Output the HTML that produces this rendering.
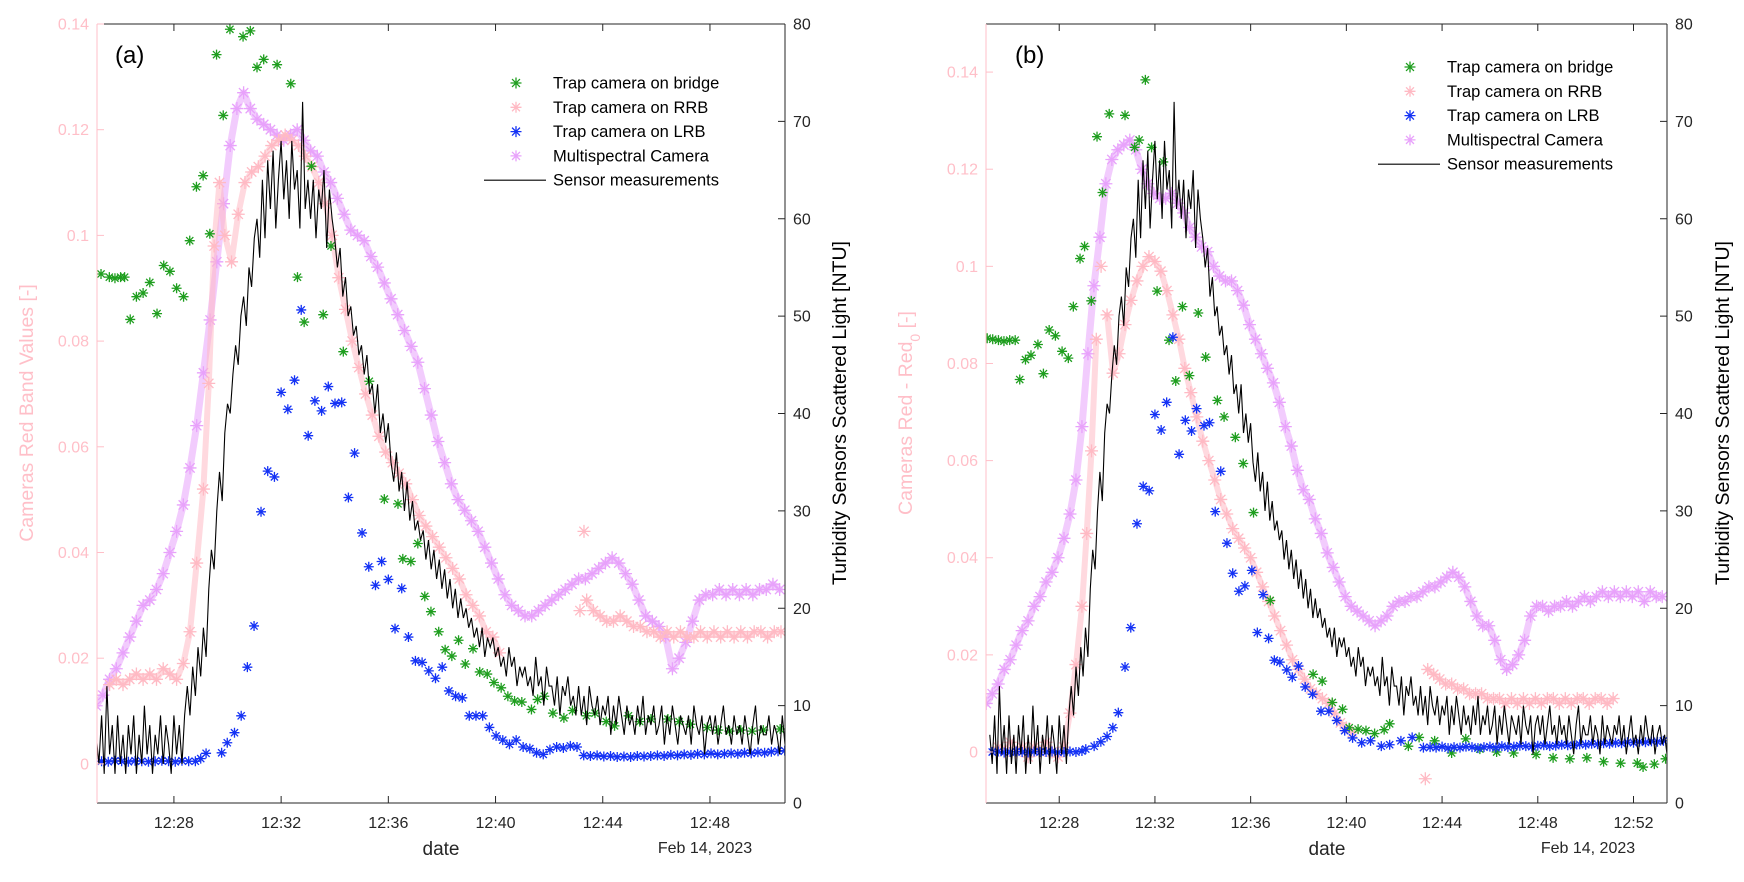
<!DOCTYPE html>
<html><head><meta charset="utf-8">
<style>
html,body{margin:0;padding:0;background:#fff;}
svg{display:block;font-family:"Liberation Sans",Arial,sans-serif;}
</style></head>
<body>
<svg id="chart" width="1744" height="882" viewBox="0 0 1744 882" xmlns="http://www.w3.org/2000/svg">
<defs>
<clipPath id="clipA"><rect x="97" y="24" width="688" height="779"/></clipPath>
<clipPath id="clipB"><rect x="986" y="24" width="681" height="779"/></clipPath>
</defs>
</svg>
<script>
// ---------- shared sensor data (NTU), start 12:25.1, step 0.1 min ----------
const sensorT0 = 25.1;
const sensorStep = 0.1;
const sensorNTU = [
7,4,9,3,12,5,8,3,9,4,
7,3,8,5,9,3,7,4,10,5,
8,3,7,5,9,4,8,6,3,9,
5,8,4,9,12,9,14,11,16,13,
18,15,22,26,24,30,34,31,38,41,
40,44,47,45,50,52,49,55,53,58,
60,56,64,58,66,61,67,59,64,68,
62,66,60,68,63,65,59,72,61,64,
60,64,58,63,61,65,57,63,60,58,
55,57,52,54,50,51,48,49,46,47,
44,46,42,43,40,43,38,40,37,39,
35,33,36,32,34,30,33,29,31,28,
29,27,28,25,27,24,26,23,25,22,
24,21,23,20,22,19,21,19,20,18,
19,17,18,16,18,15,17,16,17,15,
16,14,15,13,16,14,15,12,14,13,
14,12,13,11,15,12,13,10,14,12,
12,10,13,9,12,11,13,10,11,9,
12,9,11,8,12,10,9,11,8,10,
9,11,7,10,8,11,9,7,10,8,
9,7,10,8,11,7,9,8,10,7,
8,10,6,9,7,10,8,6,9,8,
7,9,6,10,8,7,9,5,8,9,
7,9,6,8,10,7,8,6,9,7,
8,6,9,7,5,8,10,6,8,7,
7,9,6,8,7,5,9,6,8,7,
6,8,7,9,6,8,5,7,9,6,
7,5,8,6,9,7,6,8,5,7,
8,6,7,5
];

// ---------- panel (a) ----------
const msA_t0 = 25.1, msA_step = 0.25;
const msA = [0.011,0.013,0.016,0.018,0.021,0.024,0.027,0.030,0.031,0.033,0.036,0.040,0.044,0.049,0.056,0.064,0.074,0.084,0.095,0.106,0.117,0.124,0.127,0.124,0.122,0.121,0.120,0.119,0.118,0.119,0.120,0.118,0.116,0.115,0.112,0.110,0.107,0.104,0.101,0.100,0.099,0.096,0.094,0.091,0.088,0.085,0.082,0.079,0.076,0.071,0.066,0.061,0.057,0.053,0.050,0.048,0.046,0.044,0.041,0.038,0.035,0.032,0.030,0.029,0.028,0.028,0.029,0.030,0.031,0.032,0.033,0.034,0.035,0.035,0.036,0.037,0.038,0.039,0.038,0.036,0.034,0.031,0.028,0.027,0.026,0.024,0.018,0.020,0.023,0.027,0.031,0.032,0.032,0.033,0.032,0.033,0.032,0.033,0.032,0.033,0.033,0.034,0.033];

const rrbA_t = [25.6,25.85,26.1,26.35,26.6,26.85,27.1,27.35,27.6,27.85,28.1,28.35,28.6,28.85,29.1,29.3,29.5,29.7,29.9,30.15,30.4,30.65,30.9,31.15,31.4,31.65,31.9,32.15,32.4,32.65,32.9,33.15,33.4,33.65,33.9,34.15,34.4,34.65,34.9,35.15,35.4,35.65,35.9,36.15,36.4,36.65,36.9,37.15,37.4,37.65,37.9,38.15,38.4,38.65,38.9,39.15,39.4,39.65,39.9,40.15,43.15,43.3,43.4,43.65,43.9,44.15,44.4,44.65,44.9,45.15,45.4,45.65,45.9,46.15,46.4,46.65,46.9,47.15,47.4,47.65,47.9,48.15,48.4,48.65,48.9,49.15,49.4,49.65,49.9,50.15,50.4,50.65];
const rrbA = [0.015,0.016,0.015,0.016,0.017,0.016,0.017,0.016,0.018,0.017,0.016,0.019,0.025,0.038,0.052,0.072,0.098,0.110,0.100,0.095,0.104,0.110,0.112,0.113,0.115,0.117,0.118,0.119,0.118,0.117,0.115,0.113,0.110,0.106,0.100,0.092,0.086,0.080,0.075,0.070,0.066,0.062,0.059,0.057,0.055,0.053,0.050,0.047,0.045,0.043,0.041,0.039,0.037,0.035,0.032,0.030,0.028,0.025,0.024,0.021,0.029,0.044,0.031,0.029,0.028,0.027,0.027,0.028,0.027,0.026,0.026,0.025,0.025,0.024,0.025,0.024,0.025,0.024,0.024,0.025,0.024,0.025,0.024,0.025,0.024,0.025,0.024,0.025,0.025,0.024,0.025,0.025];

const bridgeA_t = [25.28,25.59,25.80,26.01,26.16,26.37,26.60,26.85,27.10,27.37,27.62,27.85,28.10,28.36,28.59,28.84,29.09,29.34,29.59,29.84,30.09,30.58,30.85,31.10,31.35,31.85,32.36,32.61,32.86,33.13,33.57,33.86,34.32,35.29,35.85,36.36,36.54,36.84,37.10,37.36,37.59,37.88,38.12,38.37,38.62,38.87,39.16,39.41,39.69,39.94,40.21,40.46,40.71,40.98,41.34,41.57,41.82,42.14,42.55,42.87,43.39,43.71,44.13,44.44,44.96,45.38,45.80,46.43,46.85,47.27,47.90,48.31,48.73,49.15,49.57,49.99,50.62];
const bridgeA = [0.0927,0.0921,0.0919,0.0921,0.0921,0.0841,0.0884,0.0891,0.0911,0.0852,0.0943,0.0932,0.0900,0.0884,0.0990,0.1092,0.1113,0.1003,0.1342,0.1227,0.1390,0.1376,0.1387,0.1318,0.1333,0.1323,0.1287,0.0921,0.0836,0.1131,0.0850,0.0980,0.0780,0.0724,0.0501,0.0492,0.0388,0.0383,0.0417,0.0317,0.0288,0.0250,0.0216,0.0204,0.0234,0.0189,0.0218,0.0174,0.0170,0.0154,0.0144,0.0128,0.0119,0.0117,0.0103,0.0122,0.0128,0.0096,0.0087,0.0101,0.0091,0.0096,0.0080,0.0072,0.0091,0.0080,0.0085,0.0085,0.0080,0.0075,0.0069,0.0064,0.0062,0.0064,0.0062,0.0064,0.0066];

const lrbA_t = [25.3,25.55,25.8,26.05,26.3,26.55,26.8,27.05,27.3,27.55,27.8,28.05,28.3,28.55,28.8,29.0,29.2,29.78,29.99,30.26,30.51,30.74,30.99,31.25,31.50,31.75,32.00,32.25,32.50,32.75,33.01,33.26,33.51,33.76,34.01,34.26,34.51,34.74,35.02,35.27,35.52,35.75,36.00,36.25,36.50,36.75,37.01,37.26,37.51,37.76,38.01,38.26,38.51,38.76,39.02,39.27,39.52,39.77,40.02,40.27,40.52,40.77,41.03,41.28,41.53,41.78,42.03,42.28,42.53,42.79,43.04,43.29,43.54,43.79,44.04,44.29,44.54,44.79,45.04,45.29,45.54,45.79,46.04,46.29,46.54,46.79,47.04,47.29,47.54,47.79,48.04,48.29,48.54,48.79,49.04,49.29,49.54,49.79,50.04,50.29,50.54,50.79];
const lrbA = [0.0005,0.0004,0.0006,0.0005,0.0004,0.0006,0.0005,0.0004,0.0005,0.0006,0.0005,0.0004,0.0006,0.0005,0.0005,0.0010,0.0020,0.0021,0.0040,0.0059,0.0091,0.0183,0.0261,0.0477,0.0554,0.0543,0.0703,0.0671,0.0726,0.0859,0.0621,0.0687,0.0668,0.0714,0.0682,0.0684,0.0504,0.0588,0.0437,0.0373,0.0338,0.0383,0.0349,0.0256,0.0332,0.0240,0.0195,0.0192,0.0176,0.0162,0.0183,0.0138,0.0128,0.0125,0.0091,0.0091,0.0091,0.0069,0.0053,0.0045,0.0037,0.0045,0.0032,0.0029,0.0021,0.0018,0.0027,0.0032,0.0030,0.0034,0.0032,0.0016,0.0015,0.0016,0.0014,0.0015,0.0013,0.0014,0.0013,0.0015,0.0014,0.0015,0.0016,0.0015,0.0017,0.0016,0.0018,0.0017,0.0019,0.0018,0.0020,0.0018,0.0019,0.0020,0.0019,0.0021,0.0020,0.0022,0.0021,0.0023,0.0024,0.0025];

// ---------- panel (b) ----------
const msB_t0 = 24.95, msB_step = 0.25;
const msB = [0.010,0.012,0.014,0.017,0.019,0.022,0.025,0.027,0.030,0.032,0.035,0.037,0.040,0.044,0.049,0.056,0.067,0.082,0.096,0.106,0.117,0.122,0.124,0.125,0.126,0.124,0.120,0.117,0.115,0.114,0.114,0.115,0.113,0.111,0.108,0.106,0.104,0.103,0.100,0.098,0.097,0.097,0.095,0.092,0.088,0.085,0.082,0.079,0.076,0.072,0.067,0.063,0.058,0.054,0.052,0.048,0.045,0.041,0.038,0.035,0.032,0.030,0.029,0.028,0.027,0.026,0.027,0.028,0.030,0.031,0.031,0.032,0.032,0.033,0.034,0.034,0.035,0.036,0.037,0.036,0.034,0.031,0.028,0.026,0.026,0.023,0.019,0.017,0.018,0.020,0.023,0.028,0.030,0.030,0.029,0.030,0.030,0.031,0.030,0.031,0.032,0.031,0.032,0.033,0.032,0.033,0.032,0.033,0.032,0.033,0.031,0.033,0.032,0.032];

const rrbB_t = [25.45,25.7,25.95,26.2,26.45,26.7,26.95,27.2,27.45,27.7,27.95,28.2,28.45,28.7,28.95,29.15,29.35,29.55,29.75,30.0,30.25,30.5,30.75,31.0,31.25,31.5,31.75,32.0,32.25,32.5,32.75,33.0,33.25,33.5,33.75,34.0,34.25,34.5,34.75,35.0,35.25,35.5,35.75,36.0,36.25,36.5,36.75,37.0,37.25,37.5,37.75,38.0,38.25,38.5,38.75,39.0,39.25,39.5,39.75,40.0,40.25,43.3,43.4,43.65,43.9,44.15,44.4,44.65,44.9,45.15,45.4,45.65,45.9,46.15,46.4,46.65,46.9,47.15,47.4,47.65,47.9,48.15,48.4,48.65,48.9,49.15,49.4,49.65,49.9,50.15,50.4,50.65,50.9,51.15];
const rrbB = [0.001,0.000,0.002,0.000,0.001,-0.001,0.001,0.000,0.002,0.000,-0.001,0.001,0.008,0.018,0.030,0.045,0.062,0.085,0.100,0.090,0.078,0.082,0.088,0.093,0.097,0.100,0.102,0.101,0.099,0.095,0.090,0.085,0.079,0.074,0.069,0.064,0.060,0.056,0.052,0.049,0.046,0.044,0.042,0.040,0.037,0.034,0.031,0.028,0.025,0.022,0.019,0.017,0.015,0.013,0.012,0.011,0.010,0.008,0.006,0.005,0.004,-0.0055,0.017,0.016,0.015,0.014,0.014,0.013,0.013,0.012,0.012,0.012,0.011,0.011,0.011,0.010,0.011,0.010,0.011,0.010,0.011,0.010,0.011,0.011,0.010,0.011,0.010,0.011,0.011,0.010,0.011,0.011,0.010,0.011];

const bridgeB_t = [24.99,25.22,25.46,25.69,25.93,26.16,26.35,26.59,26.82,27.11,27.34,27.58,27.84,28.12,28.38,28.59,28.87,29.06,29.34,29.58,29.81,30.09,30.75,31.15,31.34,31.60,31.86,32.09,32.35,32.59,32.87,33.15,33.44,33.81,34.12,34.61,34.89,35.36,35.69,36.12,36.82,38.61,38.99,39.41,39.84,40.12,40.49,40.82,41.18,41.58,41.81,42.59,43.04,43.69,44.40,44.99,45.58,46.28,46.99,47.93,48.64,49.34,50.05,50.75,51.46,52.16,52.40,52.87,53.34];
const bridgeB = [0.0852,0.0850,0.0848,0.0846,0.0848,0.0848,0.0767,0.0808,0.0817,0.0839,0.0779,0.0869,0.0857,0.0825,0.0811,0.0917,0.1016,0.1041,0.0929,0.1267,0.1152,0.1314,0.1311,0.1245,0.1260,0.1384,0.1245,0.0949,0.1215,0.0848,0.0764,0.0917,0.0775,0.0904,0.0813,0.0724,0.0690,0.0648,0.0594,0.0493,0.0312,0.0160,0.0146,0.0102,0.0088,0.0050,0.0047,0.0044,0.0038,0.0046,0.0058,0.0012,0.0030,0.0023,-0.0002,0.0027,0.0006,0.0000,-0.0002,-0.0005,-0.0012,-0.0014,-0.0012,-0.0020,-0.0023,-0.0023,-0.0031,-0.0025,-0.0014];

const lrbB_t = [25.2,25.45,25.7,25.95,26.2,26.45,26.7,26.95,27.2,27.45,27.7,27.95,28.2,28.45,28.7,28.95,29.11,29.46,29.74,30.00,30.24,30.47,30.75,30.99,31.25,31.51,31.76,32.00,32.26,32.49,32.75,33.01,33.27,33.53,33.74,34.05,34.28,34.52,34.75,35.01,35.25,35.51,35.76,36.05,36.28,36.52,36.75,36.99,37.22,37.51,37.74,38.00,38.28,38.59,38.94,39.27,39.60,39.93,40.26,40.64,41.01,41.46,41.81,42.28,42.75,43.22,43.5,43.75,44.0,44.25,44.5,44.75,45.0,45.25,45.5,45.75,46.0,46.25,46.5,46.75,47.0,47.25,47.5,47.75,48.0,48.25,48.5,48.75,49.0,49.25,49.5,49.75,50.0,50.25,50.5,50.75,51.0,51.25,51.5,51.75,52.0,52.25,52.5,52.75,53.0,53.25];
const lrbB = [0.0000,0.0001,-0.0001,0.0000,0.0001,0.0000,-0.0001,0.0001,0.0000,0.0000,0.0001,-0.0001,0.0000,0.0001,0.0000,0.0002,0.0006,0.0012,0.0021,0.0032,0.0050,0.0081,0.0175,0.0256,0.0470,0.0547,0.0538,0.0695,0.0663,0.0720,0.0854,0.0613,0.0683,0.0661,0.0707,0.0672,0.0678,0.0495,0.0578,0.0430,0.0368,0.0331,0.0342,0.0374,0.0246,0.0324,0.0234,0.0189,0.0185,0.0169,0.0154,0.0177,0.0134,0.0119,0.0084,0.0084,0.0065,0.0044,0.0029,0.0019,0.0023,0.0012,0.0015,0.0023,0.0030,0.0009,0.0010,0.0009,0.0011,0.0008,0.0010,0.0009,0.0011,0.0010,0.0008,0.0010,0.0011,0.0009,0.0012,0.0010,0.0011,0.0013,0.0012,0.0011,0.0013,0.0014,0.0012,0.0013,0.0015,0.0014,0.0013,0.0016,0.0015,0.0017,0.0016,0.0018,0.0017,0.0019,0.0018,0.0020,0.0019,0.0021,0.0020,0.0022,0.0021,0.0023];

// tick labels
const leftTicks = [0,0.02,0.04,0.06,0.08,0.1,0.12,0.14];
const leftTickLabels = ["0","0.02","0.04","0.06","0.08","0.1","0.12","0.14"];
const rightTicks = [0,10,20,30,40,50,60,70,80];
const xTicksA = [28,32,36,40,44,48];
const xTicksB = [28,32,36,40,44,48,52];

const NS = "http://www.w3.org/2000/svg";
const svg = document.getElementById('chart');
const COL = {ms:"#e8a2fb", rrb:"#ffbac4", bridge:"#1f9e1f", lrb:"#1432f5", pinkAxis:"#ffbfc8"};

function mk(tag, parent){ const e=document.createElementNS(NS,tag); parent.appendChild(e); return e; }
function starD(x,y,s){
  const d=s*0.72;
  return `M${x-s},${y}h${2*s}M${x},${y-s}v${2*s}M${x-d},${y-d}l${2*d},${2*d}M${x-d},${y+d}l${2*d},${-2*d}`;
}

function drawPanel(P){
  const g = mk('g', svg);
  
  
  const X = t => P.x0 + (t-P.tmin)/(P.tmax-P.tmin)*(P.x1-P.x0);
  const Y = v => P.y1 - (v-P.vmin)/(P.vmax-P.vmin)*(P.y1-P.y0);
  const YR = n => P.y1 - n/80*(P.y1-P.y0);

  const plot = mk('g', g);
  plot.setAttribute('clip-path', `url(#${P.clip})`);
  
  

  function series(name, ts, vs, color, sw, sz){
    const sg = mk('g', plot);
    
    
    if (sw){
      const n = ts.length;
      const out = vs.map((v,i)=>{
        const hasL = i>0 && (ts[i]-ts[i-1])<0.45;
        const hasR = i<n-1 && (ts[i+1]-ts[i])<0.45;
        const a = hasL ? v-vs[i-1] : null, b = hasR ? v-vs[i+1] : null;
        if (a!==null && b!==null) return Math.abs(a)>0.01 && Math.abs(b)>0.01 && Math.sign(a)===Math.sign(b);
        if (a===null && b!==null) return Math.abs(b)>0.01;
        if (b===null && a!==null) return Math.abs(a)>0.01;
        return false;
      });
      let d='';
      for(let i=0;i<n;i++){
        if (out[i]) continue;
        const cont = i>0 && !out[i-1] && (ts[i]-ts[i-1])<0.45 && Math.abs(vs[i]-vs[i-1])<0.03;
        d += (cont?'L':'M') + X(ts[i]).toFixed(1)+','+Y(vs[i]).toFixed(1);
      }
      const band = mk('path', sg);
      
      
      band.setAttribute('d', d);
      band.setAttribute('fill','none');
      band.setAttribute('stroke', color);
      band.setAttribute('stroke-width', sw);
      band.setAttribute('stroke-linejoin','round');
      band.setAttribute('stroke-linecap','round');
      band.setAttribute('opacity','0.55');
    }
    for(let i=0;i<ts.length;i++){
      const p = mk('path', sg);
      
      
      p.setAttribute('d', starD(X(ts[i]), Y(vs[i]), sz));
      p.setAttribute('stroke', color);
      p.setAttribute('stroke-width', '1.3');
      p.setAttribute('fill','none');
    }
  }
  const seqT = (t0,step,n)=>Array.from({length:n},(_,i)=>t0+i*step);
  series('multispectral-series', seqT(P.ms_t0,P.ms_step,P.ms.length), P.ms, COL.ms, 7, 6.5);
  series('rrb-series', P.rrb_t, P.rrb, COL.rrb, 6, 6.5);
  series('bridge-series', P.br_t, P.br, COL.bridge, 0, 5);
  series('lrb-series', P.lrb_t, P.lrb, COL.lrb, 0, 5);

  // sensor line
  let d='';
  for(let i=0;i<sensorNTU.length;i++){
    d += (i?'L':'M') + X(sensorT0+i*sensorStep).toFixed(1)+','+YR(sensorNTU[i]).toFixed(1);
  }
  const line = mk('path', plot);
  
  
  line.setAttribute('d', d);
  line.setAttribute('fill','none');
  line.setAttribute('stroke','#000');
  line.setAttribute('stroke-width','1.1');

  // axes frame
  const ax = mk('g', g);
  
  
  function ln(x1,y1,x2,y2,c,nm){
    const l = mk('line', ax);
    
    
    l.setAttribute('x1',x1);l.setAttribute('y1',y1);l.setAttribute('x2',x2);l.setAttribute('y2',y2);
    l.setAttribute('stroke',c);l.setAttribute('stroke-width','1');
  }
  function tx(x,y,s,anchor,size,color,nm){
    const t = mk('text', ax);
    
    
    t.setAttribute('x',x);t.setAttribute('y',y);
    t.setAttribute('text-anchor',anchor);t.setAttribute('font-size',size);t.setAttribute('fill',color);
    t.textContent=s; return t;
  }
  ln(P.x0,P.y0,P.x1,P.y0,'#262626','top-axis-line');
  ln(P.x0,P.y1,P.x1,P.y1,'#262626','x-axis-line');
  ln(P.x1,P.y0,P.x1,P.y1,'#262626','right-axis-line');
  ln(P.x0,P.y0,P.x0,P.y1,COL.pinkAxis,'left-axis-line');

  leftTicks.forEach((v,i)=>{
    const y=Y(v);
    ln(P.x0,y,P.x0+7,y,COL.pinkAxis,'left-tick');
    tx(P.x0-8,y+5.5,leftTickLabels[i],'end',16,COL.pinkAxis,'left-tick-label');
  });
  rightTicks.forEach(n=>{
    const y=YR(n);
    ln(P.x1-7,y,P.x1,y,'#262626','right-tick');
    tx(P.x1+8,y+5.5,String(n),'start',16,'#262626','right-tick-label');
  });
  P.xticks.forEach(m=>{
    const x=X(m);
    ln(x,P.y1,x,P.y1-7,'#262626','x-tick');
    ln(x,P.y0,x,P.y0+7,'#262626','x-tick-top');
    tx(x,P.y1+25,'12:'+m,'middle',16,'#262626','x-tick-label');
  });
  tx(P.dateX,855,'date','middle',19,'#262626','x-axis-title');
  tx(P.febX,853,'Feb 14, 2023','middle',16,'#262626','date-label');
  tx(P.panelX,63,P.panel,'start',24,'#000','panel-label');

  const yl = mk('text', ax);
  
  
  yl.setAttribute('transform',`translate(${P.ylx},${P.yly}) rotate(-90)`);
  yl.setAttribute('text-anchor','middle');yl.setAttribute('font-size',19.5);yl.setAttribute('fill',COL.pinkAxis);
  yl.innerHTML = P.ylab;
  const yr = mk('text', ax);
  
  
  yr.setAttribute('transform',`translate(${P.yrx},413) rotate(-90)`);
  yr.setAttribute('text-anchor','middle');yr.setAttribute('font-size',19.5);yr.setAttribute('fill','#000');
  yr.textContent = 'Turbidity Sensors Scattered Light [NTU]';

  // legend
  const lg = mk('g', g);
  
  
  const entries = [['Trap camera on bridge',COL.bridge],['Trap camera on RRB',COL.rrb],['Trap camera on LRB',COL.lrb],['Multispectral Camera',COL.ms],['Sensor measurements','#000']];
  entries.forEach((e,i)=>{
    const y = P.legY + i*24.3;
    const eg = mk('g', lg);
    
    
    if(i<4){
      const m = mk('path', eg);
      
      
      m.setAttribute('d', starD(P.legMX, y, 5.5));
      m.setAttribute('stroke', e[1]); m.setAttribute('stroke-width','1.3'); m.setAttribute('fill','none');
    } else {
      const m = mk('line', eg);
      
      
      m.setAttribute('x1',P.legMX-32);m.setAttribute('x2',P.legMX+30);m.setAttribute('y1',y);m.setAttribute('y2',y);
      m.setAttribute('stroke','#000');m.setAttribute('stroke-width','1.1');
    }
    const t = mk('text', eg);
    
    
    t.setAttribute('x',P.legTX);t.setAttribute('y',y+5.5);t.setAttribute('font-size',16.5);t.setAttribute('fill','#000');
    t.textContent = e[0];
  });
}

drawPanel({name:'panel-a', clip:'clipA', x0:97,x1:785,y0:24,y1:803,tmin:25.13,tmax:50.8,vmin:-0.0074,vmax:0.14,
  xticks:xTicksA, ms_t0:msA_t0, ms_step:msA_step, ms:msA, rrb_t:rrbA_t, rrb:rrbA, br_t:bridgeA_t, br:bridgeA, lrb_t:lrbA_t, lrb:lrbA,
  dateX:441, febX:705, panelX:115, panel:'(a)', ylx:33, yly:413, ylab:'Cameras Red Band Values [-]', yrx:846,
  legY:83, legMX:516, legTX:553});
drawPanel({name:'panel-b', clip:'clipB', x0:986,x1:1667,y0:24,y1:803,tmin:24.94,tmax:53.4,vmin:-0.0105,vmax:0.1499,
  xticks:xTicksB, ms_t0:msB_t0, ms_step:msB_step, ms:msB, rrb_t:rrbB_t, rrb:rrbB, br_t:bridgeB_t, br:bridgeB, lrb_t:lrbB_t, lrb:lrbB,
  dateX:1327, febX:1588, panelX:1015, panel:'(b)', ylx:912, yly:413, ylab:'Cameras Red - Red<tspan baseline-shift="sub" font-size="14">0</tspan> [-]', yrx:1729,
  legY:67, legMX:1410, legTX:1447});
</script>
</body></html>
